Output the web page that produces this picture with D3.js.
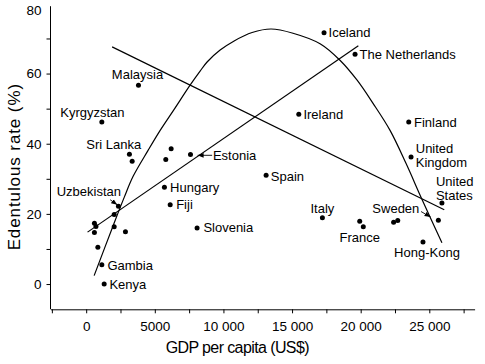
<!DOCTYPE html>
<html>
<head>
<meta charset="utf-8">
<script src="https://cdn.jsdelivr.net/npm/d3@7"></script>
<style>
  body { margin: 0; background: #fff; }
  svg { font-family: "Liberation Sans", Arial, Helvetica, sans-serif; }
</style>
</head>
<body>
<svg width="485" height="364"></svg>
<script>
// countries: "" = unlabelled dot
const countries = ["Malaysia", "Kyrgyzstan", "Sri Lanka", "", "", "", "Estonia",
  "Uzbekistan", "", "", "", "", "", "", "",
  "Gambia", "Kenya", "Hungary", "Fiji", "Slovenia",
  "Iceland", "The Netherlands", "Ireland", "Finland", "United Kingdom", "Spain",
  "United States", "Italy", "France", "", "", "", "", "Hong-Kong"];
const gdp = [3810, 1140, 3150, 3350, 6190, 5800, 7600,
  2350, 2040, 600, 710, 600, 2040, 2860, 850,
  1140, 1310, 5700, 6120, 8080,
  17330, 19590, 15490, 23500, 23670, 13110,
  25920, 17210, 19930, 20190, 22400, 22700, 25660, 24540];
const rate = [56.7, 46.2, 37.0, 35.0, 38.6, 35.5, 36.9,
  22.2, 19.8, 17.3, 16.4, 14.7, 16.3, 14.9, 10.5,
  5.5, 0, 27.6, 22.6, 16.0,
  71.6, 65.5, 48.4, 46.2, 36.2, 31.0,
  23.1, 18.9, 17.9, 16.3, 17.6, 18.1, 18.2, 12.0];

// fitted lines and curve as drawn
const fallLineGdp = [1890, 26090];
const fallLineRate = [67.6, 21.2];
const riseLineGdp = [100, 19830];
const riseLineRate = [14.8, 67.9];
const curveGdp = [580, 1970, 2770, 3420, 4510, 5390, 6410, 7570, 8300, 8810, 9760, 10780,
  12090, 13470, 15070, 17040, 18490, 19740, 20900, 22140, 23300, 24470, 25920];
const curveRate = [2.4, 16.7, 24.7, 30.7, 38.1, 43.8, 49.8, 56.7, 60.7, 63.3, 66.7, 69.3,
  71.7, 72.7, 71.5, 68.5, 63.8, 58.1, 51.5, 43.8, 34.4, 24.1, 11.8];

const xTicks = [0, 5000, 10000, 15000, 20000, 25000];
const xTickLabels = ["0", "5000", "10 000", "15 000", "20 000", "25 000"];
const xMinor = [-2500, 2500, 7500, 12500, 17500, 22500, 27500];
const yTicks = [0, 20, 40, 60, 80];
const yMinor = [10, 30, 50, 70];

// arrow annotations: name, head position (data)
const arrowNames = ["Uzbekistan", "Estonia", "Sweden"];
const arrowGdp = [2260, 8120, 25090];
const arrowRate = [22.6, 36.7, 19.1];

const svg = d3.select("svg");
const ink = "#000";

const x = d3.scaleLinear().domain([-2600, 28300]).range([50.5, 474.6]);
const y = d3.scaleLinear().domain([-7.2, 80]).range([309.3, 3.4]);

svg.append("defs").append("marker")
  .attr("id", "head")
  .attr("viewBox", "0 0 6 6")
  .attr("refX", 6).attr("refY", 3)
  .attr("markerWidth", 6).attr("markerHeight", 6)
  .attr("markerUnits", "userSpaceOnUse")
  .attr("orient", "auto")
  .append("path").attr("d", "M0,0.6L6,3L0,5.4Z").attr("fill", ink);

// x axis
svg.append("g")
  .attr("transform", `translate(0,${y(-7.2)})`)
  .call(d3.axisBottom(x).tickValues(xTicks)
    .tickFormat((d, i) => xTickLabels[i])
    .tickSize(4).tickPadding(8).tickSizeOuter(0));
svg.append("g")
  .attr("transform", `translate(0,${y(-7.2)})`)
  .call(d3.axisBottom(x).tickValues(xMinor).tickFormat("").tickSize(4))
  .call(g => g.select(".domain").remove());

// y axis
const gy = svg.append("g")
  .attr("transform", `translate(${x(-2600)},0)`)
  .call(d3.axisLeft(y).tickValues(yTicks).tickSize(4).tickPadding(5))
  .call(g => g.select(".domain").remove());
svg.append("g")
  .attr("transform", `translate(${x(-2600)},0)`)
  .call(d3.axisLeft(y).tickValues(yMinor).tickFormat("").tickSize(4))
  .call(g => g.select(".domain").remove());
svg.append("line")
  .attr("x1", x(-2600)).attr("x2", x(-2600))
  .attr("y1", y(-7.2)).attr("y2", y(79.2))
  .attr("stroke", ink);
// top tick label sits a little below the axis end
gy.selectAll(".tick").filter(d => d === 80)
  .call(t => t.select("line").remove())
  .select("text").attr("y", 6.5);

svg.selectAll(".tick line").attr("stroke", ink);
svg.selectAll(".domain").attr("stroke", ink);
svg.selectAll(".tick text")
  .attr("fill", ink)
  .style("font-size", "13.5px")
  .style("font-family", "'Liberation Sans', Arial, sans-serif");

// axis titles
svg.append("text")
  .attr("x", 237.3).attr("y", 353.3)
  .attr("text-anchor", "middle")
  .style("font-size", "16px").style("letter-spacing", "-0.6px")
  .attr("fill", ink)
  .text("GDP per capita (US$)");
svg.append("text")
  .attr("transform", "translate(20,166.7) rotate(-90)")
  .attr("text-anchor", "middle")
  .style("font-size", "17px").style("letter-spacing", "0.9px")
  .attr("fill", ink)
  .text("Edentulous rate (%)");

// lines
const line = d3.line().x(d => x(d[0])).y(d => y(d[1]));
svg.append("path")
  .attr("d", line(d3.zip(fallLineGdp, fallLineRate)))
  .attr("fill", "none").attr("stroke", ink).attr("stroke-width", 1.2);
svg.append("path")
  .attr("d", line(d3.zip(riseLineGdp, riseLineRate)))
  .attr("fill", "none").attr("stroke", ink).attr("stroke-width", 1.2);
svg.append("path")
  .attr("d", line.curve(d3.curveCatmullRom.alpha(0.5))(d3.zip(curveGdp, curveRate)))
  .attr("fill", "none").attr("stroke", ink).attr("stroke-width", 1.2);

// dots
const pts = d3.zip(countries, gdp, rate);
svg.selectAll("circle.dot")
  .data(pts)
  .join("circle")
  .attr("class", "dot")
  .attr("cx", d => x(d[1]))
  .attr("cy", d => y(d[2]))
  .attr("r", 2.5)
  .attr("fill", ink);

// label placement [dx, dy, anchor] relative to the dot (or arrow head)
const labelPos = {
  "Malaysia": [-1, -10.5, "middle"],
  "Kyrgyzstan": [-9.4, -9.7, "middle"],
  "Sri Lanka": [-15.6, -9.5, "middle"],
  "Estonia": [22.4, 0.7, "start"],
  "Uzbekistan": [-29.6, -14.4, "middle"],
  "Hungary": [5.7, 0, "start"],
  "Fiji": [6, 0, "start"],
  "Slovenia": [6.3, 0, "start"],
  "Gambia": [5.6, 0.7, "start"],
  "Kenya": [5.3, 0.3, "start"],
  "Iceland": [4.5, 0, "start"],
  "The Netherlands": [4.5, 0, "start"],
  "Ireland": [4.6, 0, "start"],
  "Finland": [5.3, 0, "start"],
  "Spain": [4.7, 1, "start"],
  "United Kingdom": [4.7, -9, "start"],
  "United States": [-6, -22, "start"],
  "Italy": [0, -9, "middle"],
  "France": [0, 16.6, "middle"],
  "Hong-Kong": [4, 10.4, "middle"],
  "Sweden": [-34.7, -8.2, "middle"]
};
const twoLine = { "United Kingdom": ["United", "Kingdom"], "United States": ["United", "States"] };

const labelled = pts.filter(d => d[0] !== "")
  .concat(d3.zip(arrowNames, arrowGdp, arrowRate).filter(d => d[0] === "Sweden"));

labelled.forEach(d => {
  const p = labelPos[d[0]];
  const t = svg.append("text")
    .attr("x", x(d[1]) + p[0])
    .attr("y", y(d[2]) + p[1])
    .attr("dy", "0.35em")
    .attr("text-anchor", p[2])
    .attr("fill", ink)
    .style("font-size", "13px");
  if (twoLine[d[0]]) {
    twoLine[d[0]].forEach((s, i) => {
      t.append("tspan").attr("x", x(d[1]) + p[0]).attr("dy", i === 0 ? "0.35em" : "14.5px").text(s);
    });
  } else {
    t.text(d[0]);
  }
});

// arrows: tail offsets in px from the head
const arrowTail = { "Uzbekistan": [-7, -5], "Estonia": [14.5, 0], "Sweden": [-9.5, -5.5] };
d3.zip(arrowNames, arrowGdp, arrowRate).forEach(d => {
  const hx = x(d[1]), hy = y(d[2]);
  const o = arrowTail[d[0]];
  svg.append("line")
    .attr("x1", hx + o[0]).attr("y1", hy + o[1])
    .attr("x2", hx).attr("y2", hy)
    .attr("stroke", ink).attr("stroke-width", 0.9)
    .attr("marker-end", "url(#head)");
});
</script>
</body>
</html>
